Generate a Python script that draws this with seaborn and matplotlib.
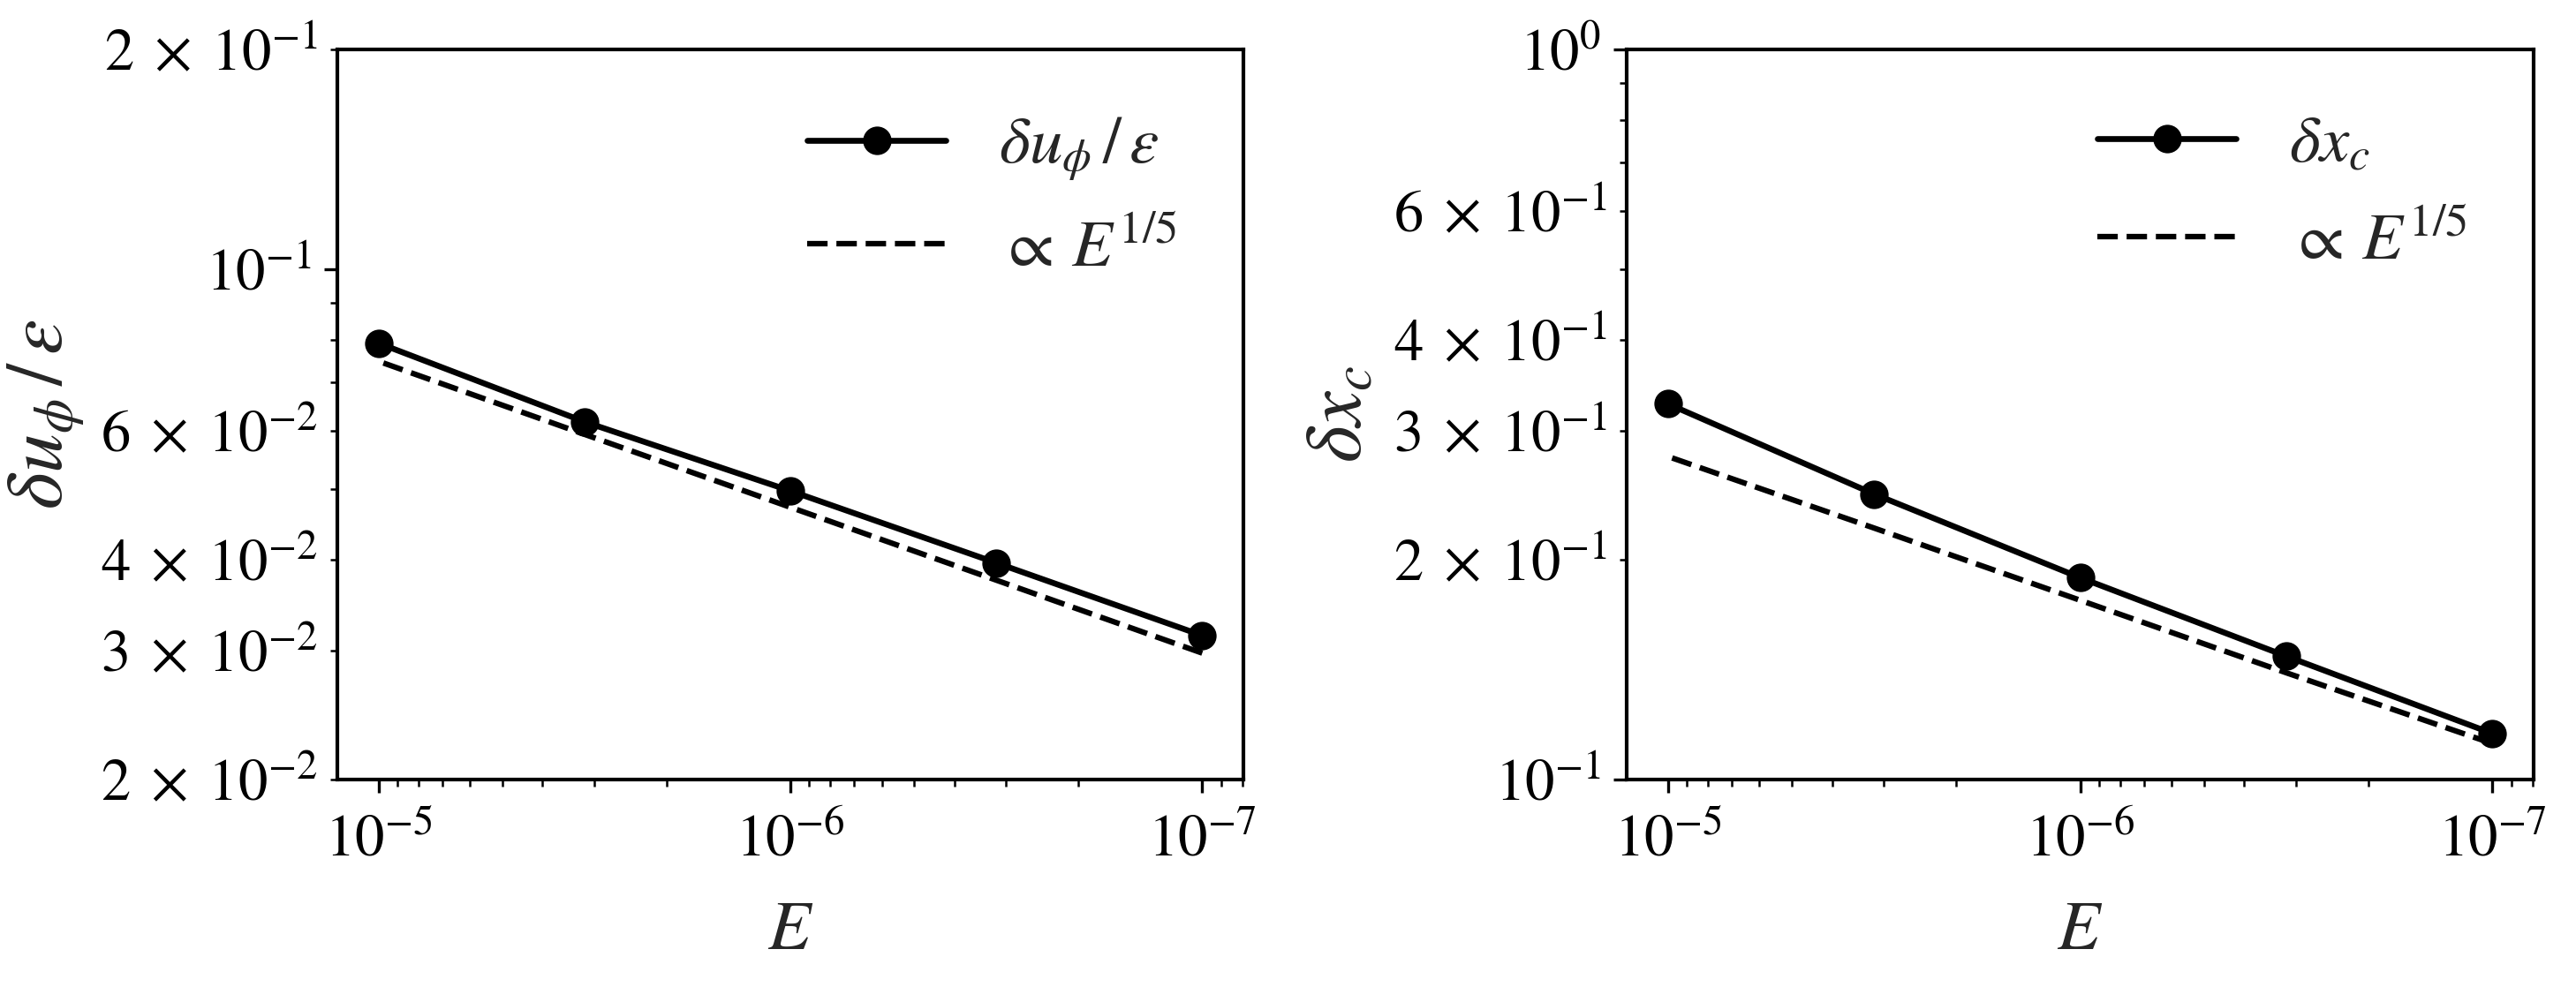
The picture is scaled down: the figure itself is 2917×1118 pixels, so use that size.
import numpy as np
import pandas as pd
import matplotlib
matplotlib.use("Agg")
import matplotlib.pyplot as plt
import matplotlib.ticker as mticker
import seaborn as sns

# ==========================
# DATA
# ==========================

E = [1e-5, 3.16e-6, 1e-6, 3.16e-7, 1e-7]

du_phi = [0.0792, 0.0618, 0.0497, 0.0396, 0.0315]
du_phi_fit = [0.0748, 0.0594, 0.0472, 0.0375, 0.0298]

dx_c = [0.327, 0.246, 0.189, 0.1475, 0.1156]
dx_c_fit = [0.277, 0.221, 0.176, 0.140, 0.112]

ylims = [(2e-2, 2e-1), (1e-1, 1e0)]
ylabels = [r"$\delta u_\phi\,/\,\varepsilon$", r"$\delta x_c$"]
fit_label = r"$\propto\, E^{1/5}$"


# log tick labels with a bit of room around the times sign
class SpacedLogFormatter(mticker.LogFormatterSciNotation):

    def __call__(self, x, pos=None):
        s = super().__call__(x, pos)
        return s.replace(r"\times", r"\;\times\;")


# ==========================
# STYLE
# ==========================

sns.set_style("ticks")

plt.rcParams.update({
    "font.family": ["STIXGeneral", "DejaVu Serif"],
    "mathtext.fontset": "stix",
    "axes.edgecolor": "black",
    "axes.linewidth": 1.0,
    "xtick.color": "black",
    "ytick.color": "black",
    "xtick.labelsize": 16,
    "ytick.labelsize": 16,
    "xtick.major.size": 3.5,
    "ytick.major.size": 3.5,
    "xtick.minor.size": 2.0,
    "ytick.minor.size": 2.0,
    "xtick.major.pad": 6,
    "xtick.minor.pad": 6,
    "axes.labelsize": 19,
    "legend.fontsize": 18,
})

fig = plt.figure(figsize=(2917 / 300, 1118 / 300), dpi=300)

ax1 = fig.add_axes([0.1310, 0.2102, 0.3517, 0.7397])
ax2 = fig.add_axes([0.6315, 0.2102, 0.3521, 0.7397])

panels = [
    (ax1, du_phi, du_phi_fit, ylabels[0], ylims[0]),
    (ax2, dx_c, dx_c_fit, ylabels[1], ylims[1]),
]

for ax, vals, fit, lab, lim in panels:

    df = pd.DataFrame({"E": E, "val": vals, "fit": fit})

    sns.lineplot(
        data=df,
        x="E",
        y="val",
        ax=ax,
        color="black",
        marker="o",
        markersize=7,
        markeredgecolor="black",
        linewidth=1.6,
        label=lab
    )

    sns.lineplot(
        data=df,
        x="E",
        y="fit",
        ax=ax,
        color="black",
        linestyle="--",
        linewidth=1.5,
        label=fit_label
    )

    ax.set_xscale("log")
    ax.set_yscale("log")
    ax.set_ylim(*lim)
    ax.invert_xaxis()

    ax.yaxis.set_major_formatter(SpacedLogFormatter())
    ax.yaxis.set_minor_formatter(
        SpacedLogFormatter(labelOnlyBase=False, minor_thresholds=(1, 0.4))
    )

    ax.set_xlabel(r"$E$", labelpad=9)
    ax.set_ylabel(lab, fontsize=21.5, labelpad=4)

    ax.legend(
        loc="upper right",
        frameon=False,
        handlelength=2.1,
        handletextpad=0.8,
        labelspacing=0.55,
        borderaxespad=0.6
    )

fig.savefig("out.png", dpi=300)
